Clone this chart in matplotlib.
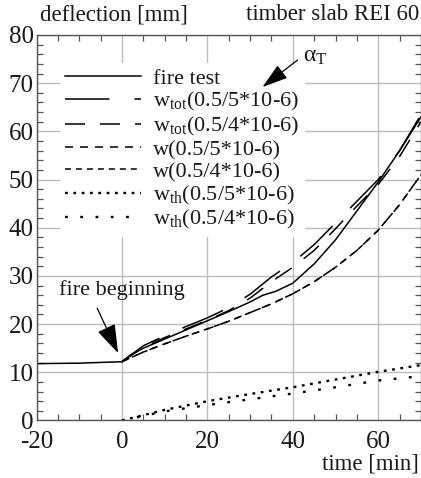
import matplotlib
matplotlib.use("Agg")
import matplotlib.pyplot as plt
from matplotlib.ticker import MultipleLocator

plt.rcParams['font.family'] = ['Liberation Serif', 'DejaVu Serif']
plt.rcParams['mathtext.fontset'] = 'custom'
plt.rcParams['mathtext.rm'] = 'Liberation Serif'
plt.rcParams['mathtext.it'] = 'Liberation Serif:italic'
plt.rcParams['lines.scale_dashes'] = False
plt.rcParams['axes.unicode_minus'] = False

# ---- data ----
t_pre = [-20, -10, 0]
fire_pre = [11.8, 11.9, 12.2]

t_fire = [0, 2, 5, 10, 15, 20, 25, 30, 33, 36, 40, 45, 50, 55, 60, 65, 70]
fire_test = [12.2, 13.6, 15.0, 16.9, 18.8, 20.7, 22.6, 24.6, 26.0, 26.8, 28.5,
             32.5, 37.5, 43.5, 49.5, 56.0, 63.0]

t_model = [0, 5, 10, 15, 20, 25, 30, 35, 40, 45, 50, 55, 60, 65, 70]
w_tot_5 = [12.2, 15.5, 17.6, 19.5, 21.3, 23.4, 26.2, 29.8, 32.8, 36.5, 41.0,
           45.5, 50.0, 56.0, 63.5]
w_tot_4 = [12.2, 15.2, 17.2, 19.0, 20.8, 22.8, 25.4, 28.8, 31.8, 35.3, 39.8,
           44.5, 49.0, 54.8, 62.0]
w_5 = [12.2, 14.2, 15.9, 17.5, 19.0, 20.6, 22.4, 24.2, 26.3, 28.8, 31.8,
       35.3, 39.5, 44.8, 51.0]
w_4 = [12.2, 14.2, 15.9, 17.5, 19.0, 20.6, 22.4, 24.2, 26.3, 28.8, 31.8,
       35.3, 39.5, 44.8, 51.0]

t_th = [0, 10, 20, 30, 40, 50, 60, 70]
w_th_5 = [0.0, 2.2, 4.0, 5.5, 6.9, 8.5, 10.1, 11.5]
w_th_4 = [0.0, 1.9, 3.2, 4.4, 5.6, 6.9, 8.3, 9.2]

labels = ['fire test',
          r'w$_{\mathrm{tot}}$(0.5/5*10-6)',
          r'w$_{\mathrm{tot}}$(0.5/4*10-6)',
          'w(0.5/5*10-6)',
          'w(0.5/4*10-6)',
          r'w$_{\mathrm{th}}$(0.5/5*10-6)',
          r'w$_{\mathrm{th}}$(0.5/4*10-6)']

txt = '#1a1a1a'

# ---- figure ----
fig = plt.figure(figsize=(4.21, 4.78), dpi=100)
ax = fig.add_axes([0.0867, 0.1203, 0.9133, 0.8065])

lw = 1.1
k = 'black'
ax.plot(t_pre, fire_pre, color=k, lw=lw)
h1, = ax.plot(t_fire, fire_test, color=k, lw=lw, label=labels[0])
h2, = ax.plot(t_model, w_tot_5, color=k, lw=lw, dashes=(32, 18), label=labels[1])
h3, = ax.plot(t_model, w_tot_4, color=k, lw=lw, dashes=(14.4, 10.8), label=labels[2])
h4, = ax.plot(t_model, w_5, color=k, lw=lw, dashes=(5.8, 5.0), label=labels[3])
h5, = ax.plot(t_model, w_4, color=k, lw=lw, dashes=(4.3, 3.6), label=labels[4])
h6, = ax.plot(t_th, w_th_5, color=k, lw=1.7, dashes=(2.0, 4.0), label=labels[5])
h7, = ax.plot(t_th, w_th_4, color=k, lw=1.7, dashes=(2.0, 9.0), label=labels[6])

ax.set_xlim(-20, 70)
ax.set_ylim(0, 80)
ax.xaxis.set_major_locator(MultipleLocator(20))
ax.xaxis.set_minor_locator(MultipleLocator(5))
ax.yaxis.set_major_locator(MultipleLocator(10))
ax.yaxis.set_minor_locator(MultipleLocator(2))
ax.grid(True, which='major', color='#bdbdbd', lw=1.0)
ax.set_axisbelow(True)
ax.tick_params(which='major', length=0, labelsize=18, colors=txt)
ax.tick_params(axis='x', which='major', pad=7.5)
ax.tick_params(axis='y', which='major', pad=2)
ax.tick_params(which='minor', direction='in', length=4.5, width=0.9,
               color='#555555', top=True, right=True)
for s in ax.spines.values():
    s.set_color('#555555')
    s.set_linewidth(1.0)

leg = ax.legend(handles=[h1, h2, h3, h4, h5, h6, h7], loc='upper left',
                bbox_to_anchor=(0.06, 0.928), fontsize=16, frameon=True,
                facecolor='white', edgecolor='none', framealpha=1.0,
                handlelength=3.4, handletextpad=0.55, labelspacing=0.07,
                borderpad=0.25, borderaxespad=0)
leg.get_frame().set_boxstyle('square', pad=0)
for t in leg.get_texts():
    t.set_color(txt)

# annotations
ax.text(-0.1, 27.1, 'fire beginning', fontsize=16, ha='center', va='center',
        color=txt, zorder=7)
ax.annotate('', xy=(-0.9, 14.0), xytext=(-5.8, 23.3), zorder=7,
            arrowprops=dict(arrowstyle='-|>,head_length=1.8,head_width=0.6',
                            color='black', lw=0.9, shrinkA=0, shrinkB=0))
ax.text(42.3, 75.6, r'α$_{\mathrm{T}}$', fontsize=17, ha='left',
        va='center', color=txt, zorder=7)
ax.annotate('', xy=(32.9, 69.2), xytext=(41.1, 74.8), zorder=7,
            arrowprops=dict(arrowstyle='-|>,head_length=1.6,head_width=0.5',
                            color='black', lw=0.9, shrinkA=0, shrinkB=0))

fig.text(40 / 421, 1 - 15 / 478, 'deflection [mm]', fontsize=16.5,
         ha='left', va='center', color=txt)
fig.text(419 / 421, 1 - 15 / 478, 'timber slab REI 60', fontsize=16.5,
         ha='right', va='center', color=txt)
fig.text(419 / 421, 1 - 464 / 478, 'time [min]', fontsize=16.5,
         ha='right', va='center', color=txt)

fig.savefig('out.png', dpi=100)
